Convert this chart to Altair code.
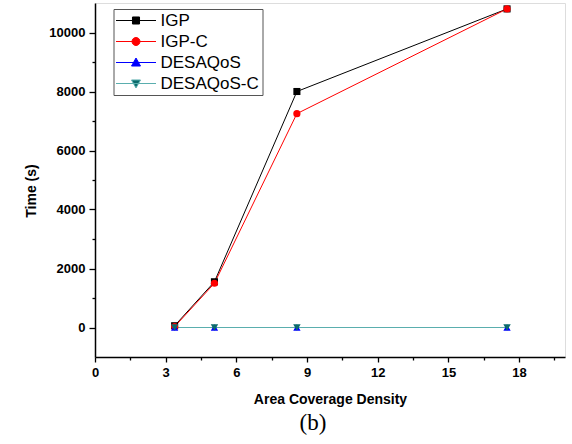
import altair as alt
import pandas as pd

# ---- data ----
series_names = ["IGP", "IGP-C", "DESAQoS", "DESAQoS-C"]
density = [3.38, 5.07, 8.57, 17.49]
igp = [60, 1550, 8000, 10800]
igp_c = [30, 1500, 7250, 10800]
desaqos = [0, 0, 0, 0]
desaqos_c = [0, 0, 0, 0]

x_major = [0, 3, 6, 9, 12, 15, 18]
x_minor = [1.5, 4.5, 7.5, 10.5, 13.5, 16.5, 19.5]
y_major = [0, 2000, 4000, 6000, 8000, 10000]
y_minor = [1000, 3000, 5000, 7000, 9000]

line_colors = ["#000000", "#ff0000", "#0000ff", "#5aaeae"]
marker_colors = ["#000000", "#ff0000", "#0000ff", "#0b6b6b"]
shapes = ["square", "circle", "triangle-up", "triangle-down"]
marker_sizes = [50, 55, 95, 95]

values = [igp, igp_c, desaqos, desaqos_c]
rows = []
for order, (name, vals) in enumerate(zip(series_names, values)):
    for xv, yv in zip(density, vals):
        rows.append({"series": name, "order": order, "x": xv, "y": yv})
df = pd.DataFrame(rows)

FONT = "Liberation Sans"
xscale = alt.Scale(domain=[0, 19.95], nice=False, zero=False)
yscale = alt.Scale(domain=[-1000, 11000], nice=False, zero=False)

# legend symbol paths: a line with the series marker in the middle
paths = [
    "M-2.5,0H2.5M-0.44,-0.44H0.44V0.44H-0.44Z",
    "M-2.5,0H2.5M0.5,0A0.5,0.5,0,1,1,-0.5,0A0.5,0.5,0,1,1,0.5,0Z",
    "M-2.5,0H2.5M0,-0.56L0.56,0.44L-0.56,0.44Z",
    "M-2.5,0H2.5M0,0.56L0.56,-0.44L-0.56,-0.44Z",
]


def pick(options):
    expr = "'" + options[-1] + "'"
    for name, opt in reversed(list(zip(series_names[:-1], options[:-1]))):
        expr = f"datum.value === '{name}' ? '{opt}' : " + expr
    return alt.ExprRef(expr=expr)


legend = alt.Legend(
    title=None,
    orient="none",
    legendX=18.5,
    legendY=6,
    direction="vertical",
    fillColor="white",
    strokeColor="#555555",
    padding=3,
    labelFont=FONT,
    labelFontSize=17,
    labelColor="black",
    labelOffset=16,
    symbolOffset=11,
    symbolSize=256,
    symbolStrokeWidth=1,
    symbolOpacity=1,
    symbolType=pick(paths),
    symbolFillColor=pick(marker_colors),
    rowPadding=3,
)

x_axis = alt.Axis(
    orient="bottom", values=x_major, format="d", grid=False,
    title="Area Coverage Density", titleFont=FONT, titleFontSize=14,
    titleFontWeight="bold", titleColor="black", titleBaseline="alphabetic",
    titleY=46,
    labelFont=FONT, labelFontSize=13, labelFontWeight="bold", labelColor="black",
    labelPadding=4, labelFlush=False,
    tickSize=5, tickWidth=1.3, tickColor="black",
    domainColor="black", domainWidth=1.5,
)
y_axis = alt.Axis(
    orient="left", values=y_major, format="d", grid=False,
    title="Time (s)", titleFont=FONT, titleFontSize=14,
    titleFontWeight="bold", titleColor="black", titleAngle=270,
    titleAlign="center", titleBaseline="alphabetic", titleX=-59.5, titleY=187.5,
    labelFont=FONT, labelFontSize=13, labelFontWeight="bold", labelColor="black",
    labelPadding=4, labelFlush=False,
    tickSize=6, tickWidth=1.3, tickColor="black",
    domainColor="black", domainWidth=1.5,
)
x_axis_minor = alt.Axis(
    orient="bottom", values=x_minor, labels=False, title=None, grid=False,
    domain=False, tickSize=3, tickWidth=1.3, tickColor="black",
)
y_axis_minor = alt.Axis(
    orient="left", values=y_minor, labels=False, title=None, grid=False,
    domain=False, tickSize=3, tickWidth=1.3, tickColor="black",
)

base = alt.Chart(df)

lines = base.mark_line(strokeWidth=1).encode(
    x=alt.X("x:Q", scale=xscale, axis=x_axis),
    y=alt.Y("y:Q", scale=yscale, axis=y_axis),
    color=alt.Color("series:N", scale=alt.Scale(domain=series_names, range=line_colors),
                    legend=legend),
    order=alt.Order("x:Q"),
)

points = base.mark_point(filled=True, opacity=1).encode(
    x=alt.X("x:Q", scale=xscale, axis=None),
    y=alt.Y("y:Q", scale=yscale, axis=None),
    color=alt.Color("series:N", scale=alt.Scale(domain=series_names, range=marker_colors),
                    legend=None),
    shape=alt.Shape("series:N", scale=alt.Scale(domain=series_names, range=shapes),
                    legend=None),
    size=alt.Size("series:N", scale=alt.Scale(domain=series_names, range=marker_sizes),
                  legend=None),
    order=alt.Order("order:Q"),
)

minor = base.mark_point(opacity=0).encode(
    x=alt.X("x:Q", scale=xscale, axis=x_axis_minor),
    y=alt.Y("y:Q", scale=yscale, axis=y_axis_minor),
)

chart = (
    alt.layer(minor, lines, points)
    .resolve_scale(color="independent", shape="independent", size="independent")
    .resolve_axis(x="independent", y="independent")
    .properties(
        width=470,
        height=354,
        autosize=alt.AutoSizeParams(type="none"),
        padding={"left": 95, "top": 3, "right": 7, "bottom": 87},
        title=alt.TitleParams(
            "(b)", orient="bottom", anchor="middle", font="Liberation Serif",
            fontSize=23, fontWeight="normal", color="black", offset=6, dx=-17,
        ),
    )
    .configure_view(stroke=None)
    .configure(background="white")
)

chart.save("out.html", embed_options={"renderer": "svg", "actions": False})
